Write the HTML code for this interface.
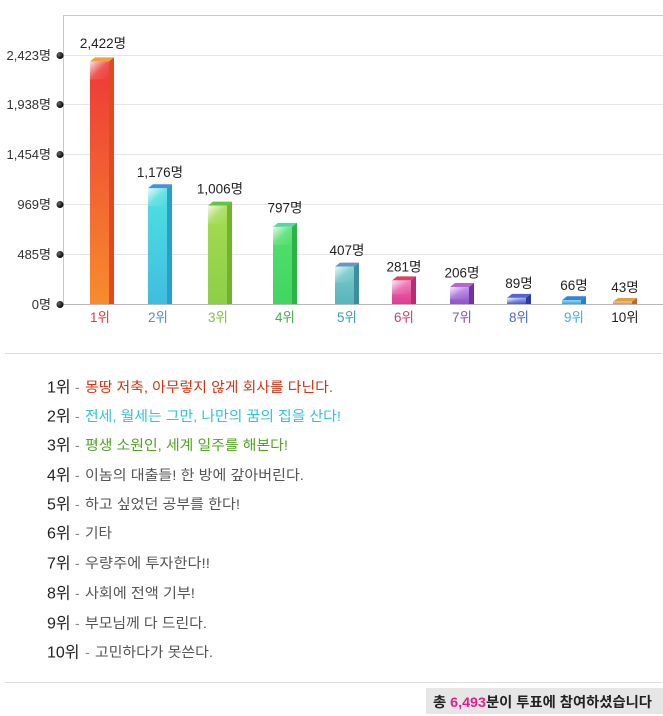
<!DOCTYPE html>
<html><head><meta charset="utf-8">
<style>
html,body{margin:0;padding:0;background:#fff;}
svg{display:block;font-family:"Liberation Sans","Noto Sans CJK KR",sans-serif;}
</style></head>
<body>
<svg width="663" height="716" viewBox="0 0 663 716" xmlns="http://www.w3.org/2000/svg">
<defs>
<linearGradient id="gl" x1="0" y1="0" x2="1" y2="1">
<stop offset="0" stop-color="#fff" stop-opacity="0.85"/>
<stop offset="0.5" stop-color="#fff" stop-opacity="0.15"/>
<stop offset="1" stop-color="#fff" stop-opacity="0"/>
</linearGradient>
<linearGradient id="f1" x1="0" y1="0" x2="0" y2="1"><stop offset="0" stop-color="#ee3838"/><stop offset="1" stop-color="#f78c2c"/></linearGradient>
<linearGradient id="f2" x1="0" y1="0" x2="0" y2="1"><stop offset="0" stop-color="#4fe2e0"/><stop offset="1" stop-color="#40bce0"/></linearGradient>
<linearGradient id="f3" x1="0" y1="0" x2="0" y2="1"><stop offset="0" stop-color="#a4dc52"/><stop offset="1" stop-color="#8ccf48"/></linearGradient>
<linearGradient id="f4" x1="0" y1="0" x2="0" y2="1"><stop offset="0" stop-color="#52e070"/><stop offset="1" stop-color="#42d460"/></linearGradient>
<linearGradient id="f5" x1="0" y1="0" x2="0" y2="1"><stop offset="0" stop-color="#72cccc"/><stop offset="1" stop-color="#5ab4bc"/></linearGradient>
<linearGradient id="f6" x1="0" y1="0" x2="0" y2="1"><stop offset="0" stop-color="#f070b4"/><stop offset="1" stop-color="#dc3c94"/></linearGradient>
<linearGradient id="f7" x1="0" y1="0" x2="0" y2="1"><stop offset="0" stop-color="#b684e2"/><stop offset="1" stop-color="#9054cc"/></linearGradient>
<linearGradient id="f8" x1="0" y1="0" x2="0" y2="1"><stop offset="0" stop-color="#8c9ae8"/><stop offset="1" stop-color="#3454c4"/></linearGradient>
<linearGradient id="f9" x1="0" y1="0" x2="0" y2="1"><stop offset="0" stop-color="#88dcf2"/><stop offset="1" stop-color="#34a4e2"/></linearGradient>
<linearGradient id="f10" x1="0" y1="0" x2="0" y2="1"><stop offset="0" stop-color="#f4c8a8"/><stop offset="1" stop-color="#e08a58"/></linearGradient>
<radialGradient id="dot" cx="0.35" cy="0.35" r="0.7"><stop offset="0" stop-color="#666"/><stop offset="1" stop-color="#000"/></radialGradient>
</defs>

<!-- grid -->
<g stroke="#e6e6e6" stroke-width="1">
<line x1="63" y1="55.5" x2="663" y2="55.5"/>
<line x1="63" y1="104.5" x2="663" y2="104.5"/>
<line x1="63" y1="154.5" x2="663" y2="154.5"/>
<line x1="63" y1="204.5" x2="663" y2="204.5"/>
<line x1="63" y1="254.5" x2="663" y2="254.5"/>
</g>
<line x1="63" y1="15.5" x2="663" y2="15.5" stroke="#c8c8c8"/>
<line x1="63.5" y1="15" x2="63.5" y2="304" stroke="#c8c8c8"/>
<line x1="63" y1="304.5" x2="663" y2="304.5" stroke="#b8b8b8"/>

<!-- y labels -->
<g font-size="13" fill="#333" text-anchor="end">
<text x="51" y="60">2,423명</text>
<text x="51" y="109">1,938명</text>
<text x="51" y="159">1,454명</text>
<text x="51" y="209">969명</text>
<text x="51" y="259">485명</text>
<text x="51" y="309">0명</text>
</g>
<g fill="url(#dot)">
<circle cx="60" cy="55.5" r="3.5"/>
<circle cx="60" cy="104.5" r="3.5"/>
<circle cx="60" cy="154.5" r="3.5"/>
<circle cx="60" cy="204.5" r="3.5"/>
<circle cx="60" cy="254.5" r="3.5"/>
<circle cx="60" cy="304.5" r="3.5"/>
</g>

<!-- bars -->
<g>
<polygon points="90,61.4 95,57.4 114,57.4 109,61.4" fill="#f5a040"/>
<polygon points="109,61.4 114,57.4 114,304 109,304" fill="#e04a22"/>
<rect x="90" y="61.4" width="19" height="242.6" fill="url(#f1)"/>
<rect x="90" y="61.4" width="19" height="18" fill="url(#gl)"/>
</g>
<g>
<polygon points="148,188.3 153,184.3 172,184.3 167,188.3" fill="#4a8ee0"/>
<polygon points="167,188.3 172,184.3 172,304 167,304" fill="#28a2c4"/>
<rect x="148" y="188.3" width="19" height="115.7" fill="url(#f2)"/>
<rect x="148" y="188.3" width="19" height="18" fill="url(#gl)"/>
</g>
<g>
<polygon points="208,205.6 213,201.6 232,201.6 227,205.6" fill="#62c440"/>
<polygon points="227,205.6 232,201.6 232,304 227,304" fill="#72b232"/>
<rect x="208" y="205.6" width="19" height="98.4" fill="url(#f3)"/>
<rect x="208" y="205.6" width="19" height="18" fill="url(#gl)"/>
</g>
<g>
<polygon points="273,226.9 278,222.9 297,222.9 292,226.9" fill="#52d8a0"/>
<polygon points="292,226.9 297,222.9 297,304 292,304" fill="#2cb246"/>
<rect x="273" y="226.9" width="19" height="77.1" fill="url(#f4)"/>
<rect x="273" y="226.9" width="19" height="18" fill="url(#gl)"/>
</g>
<g>
<polygon points="335,266.6 340,262.6 359,262.6 354,266.6" fill="#6098c8"/>
<polygon points="354,266.6 359,262.6 359,304 354,304" fill="#408c9c"/>
<rect x="335" y="266.6" width="19" height="37.4" fill="url(#f5)"/>
<rect x="335" y="266.6" width="19" height="16" fill="url(#gl)"/>
</g>
<g>
<polygon points="392,280.4 397,276.4 416,276.4 411,280.4" fill="#e04064"/>
<polygon points="411,280.4 416,276.4 416,304 411,304" fill="#b82a74"/>
<rect x="392" y="280.4" width="19" height="23.6" fill="url(#f6)"/>
<rect x="392" y="280.4" width="19" height="14" fill="url(#gl)"/>
</g>
<g>
<polygon points="450,287 455,283 474,283 469,287" fill="#b864da"/>
<polygon points="469,287 474,283 474,304 469,304" fill="#7232a4"/>
<rect x="450" y="287" width="19" height="17" fill="url(#f7)"/>
<rect x="450" y="287" width="19" height="12" fill="url(#gl)"/>
</g>
<g>
<polygon points="507,297.9 512,293.9 531,293.9 526,297.9" fill="#5464d8"/>
<polygon points="526,297.9 531,293.9 531,304 526,304" fill="#2a3aa2"/>
<rect x="507" y="297.9" width="19" height="6.1" fill="url(#f8)"/>
<rect x="507" y="297.9" width="19" height="6" fill="url(#gl)"/>
</g>
<g>
<polygon points="562,300.3 567,296.3 586,296.3 581,300.3" fill="#3482e0"/>
<polygon points="581,300.3 586,296.3 586,304 581,304" fill="#2284c4"/>
<rect x="562" y="300.3" width="19" height="3.7" fill="url(#f9)"/>
</g>
<g>
<polygon points="613,301.6 618,298 637,298 632,301.6" fill="#e0a040"/>
<polygon points="632,301.6 637,298 637,304 632,304" fill="#c06432"/>
<rect x="613" y="301.6" width="19" height="2.4" fill="url(#f10)"/>
</g>

<!-- value labels -->
<g font-size="13.5" fill="#222" text-anchor="middle">
<text x="103" y="48">2,422명</text>
<text x="160" y="177">1,176명</text>
<text x="220" y="193.5">1,006명</text>
<text x="285" y="212.5">797명</text>
<text x="347" y="255">407명</text>
<text x="404" y="271.5">281명</text>
<text x="462" y="277.5">206명</text>
<text x="519" y="288">89명</text>
<text x="574" y="290">66명</text>
<text x="625" y="292">43명</text>
</g>

<!-- x labels -->
<g font-size="13.5" text-anchor="middle">
<text x="100" y="322" fill="#e23c3c">1위</text>
<text x="158" y="322" fill="#4a8ee0">2위</text>
<text x="218" y="322" fill="#7cc43c">3위</text>
<text x="285" y="322" fill="#3cb04c">4위</text>
<text x="347" y="322" fill="#3a9ec0">5위</text>
<text x="404" y="322" fill="#c8407c">6위</text>
<text x="462" y="322" fill="#8a50c0">7위</text>
<text x="519" y="322" fill="#4a6ad0">8위</text>
<text x="574" y="322" fill="#40b0e0">9위</text>
<text x="625" y="322" fill="#222">10위</text>
</g>

<line x1="5" y1="353.5" x2="662" y2="353.5" stroke="#dcdcdc"/>

<!-- legend -->
<g font-size="16" fill="#222">
<text x="47" y="392.5">1위</text>
<text x="47" y="421.5">2위</text>
<text x="47" y="450.5">3위</text>
<text x="47" y="480.5">4위</text>
<text x="47" y="509.5">5위</text>
<text x="47" y="538.5">6위</text>
<text x="47" y="568.5">7위</text>
<text x="47" y="598.5">8위</text>
<text x="47" y="628.5">9위</text>
<text x="47" y="657.5">10위</text>
</g>
<g font-size="14" fill="#888">
<text x="75" y="392">-</text>
<text x="75" y="421">-</text>
<text x="75" y="450">-</text>
<text x="75" y="480">-</text>
<text x="75" y="509">-</text>
<text x="75" y="538">-</text>
<text x="75" y="568">-</text>
<text x="75" y="598">-</text>
<text x="75" y="628">-</text>
<text x="85" y="657">-</text>
</g>
<g font-size="14">
<text x="85" y="392" fill="#d03414" textLength="248" lengthAdjust="spacingAndGlyphs">몽땅 저축, 아무렇지 않게 회사를 다닌다.</text>
<text x="85" y="421" fill="#33c2d8" textLength="256" lengthAdjust="spacingAndGlyphs">전세, 월세는 그만, 나만의 꿈의 집을 산다!</text>
<text x="85" y="450" fill="#52a424" textLength="203" lengthAdjust="spacingAndGlyphs">평생 소원인, 세계 일주를 해본다!</text>
<text x="85" y="480" fill="#555" textLength="219" lengthAdjust="spacingAndGlyphs">이놈의 대출들! 한 방에 갚아버린다.</text>
<text x="85" y="509" fill="#555" textLength="155" lengthAdjust="spacingAndGlyphs">하고 싶었던 공부를 한다!</text>
<text x="85" y="538" fill="#555" textLength="27" lengthAdjust="spacingAndGlyphs">기타</text>
<text x="85" y="568" fill="#555" textLength="125" lengthAdjust="spacingAndGlyphs">우량주에 투자한다!!</text>
<text x="85" y="598" fill="#555" textLength="110" lengthAdjust="spacingAndGlyphs">사회에 전액 기부!</text>
<text x="85" y="628" fill="#555" textLength="122" lengthAdjust="spacingAndGlyphs">부모님께 다 드린다.</text>
<text x="95" y="657" fill="#555" textLength="118" lengthAdjust="spacingAndGlyphs">고민하다가 못쓴다.</text>
</g>

<line x1="5" y1="682.5" x2="662" y2="682.5" stroke="#dcdcdc"/>
<rect x="426" y="688" width="237" height="26" fill="#e6e6e6"/>
<text x="433" y="707" font-size="14" font-weight="bold" fill="#222" textLength="219" lengthAdjust="spacingAndGlyphs">총 <tspan fill="#e0208c">6,493</tspan>분이 투표에 참여하셨습니다</text>
</svg>
</body></html>
